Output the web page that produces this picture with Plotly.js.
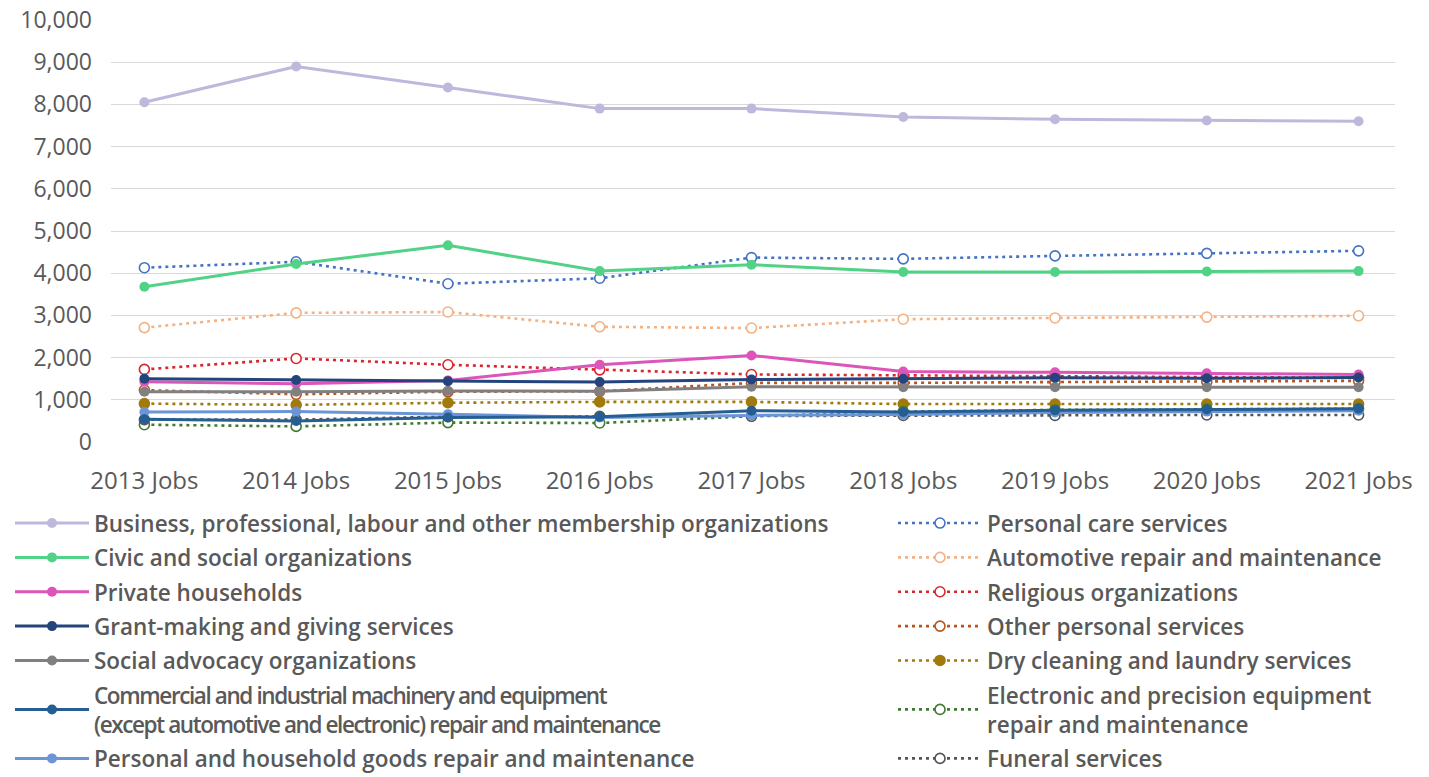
<!DOCTYPE html>
<html>
<head>
<meta charset="utf-8">
<script src="https://cdn.plot.ly/plotly-3.0.1.min.js"></script>
<style>html,body{margin:0;padding:0;background:#fff;}#chart{width:1429px;height:777px;}</style>
</head>
<body>
<div id="chart"></div>
<script>
const years = ["2013 Jobs","2014 Jobs","2015 Jobs","2016 Jobs","2017 Jobs","2018 Jobs","2019 Jobs","2020 Jobs","2021 Jobs"];

const business      = [8050, 8900, 8400, 7900, 7900, 7700, 7650, 7620, 7600];
const civic         = [3680, 4220, 4660, 4050, 4200, 4030, 4030, 4040, 4050];
const households    = [1430, 1380, 1460, 1830, 2050, 1670, 1650, 1630, 1600];
const grantMaking   = [1500, 1470, 1440, 1420, 1480, 1500, 1520, 1510, 1530];
const socialAdvoc   = [1190, 1190, 1210, 1200, 1310, 1300, 1300, 1300, 1300];
const commercial    = [540, 500, 580, 600, 740, 710, 750, 770, 790];
const householdGoods= [710, 720, 660, 580, 630, 650, 700, 720, 740];
const personalCare  = [4130, 4270, 3750, 3880, 4370, 4340, 4410, 4470, 4530];
const automotive    = [2710, 3060, 3080, 2730, 2700, 2910, 2940, 2960, 2990];
const religious     = [1720, 1980, 1830, 1710, 1600, 1580, 1560, 1540, 1520];
const otherPersonal = [1230, 1130, 1190, 1200, 1400, 1400, 1420, 1430, 1450];
const dryCleaning   = [910, 880, 930, 950, 950, 900, 900, 900, 900];
const electronic    = [410, 370, 460, 450, 610, 720, 760, 780, 790];
const funeral       = [530, 530, 600, 610, 610, 630, 630, 640, 640];

const yTickVals = [0,1000,2000,3000,4000,5000,6000,7000,8000,9000,10000];
const yTickText = ["0","1,000","2,000","3,000","4,000","5,000","6,000","7,000","8,000","9,000","10,000"];

const seriesNames = [
  "Business, professional, labour and other membership organizations",
  "Civic and social organizations",
  "Private households",
  "Grant-making and giving services",
  "Social advocacy organizations",
  "<span style=\"letter-spacing:-1.4px\">Commercial and industrial machinery and equipment</span><br><span style=\"letter-spacing:-1.4px\">(except automotive and electronic) repair and maintenance</span>",
  "Personal and household goods repair and maintenance",
  "Personal care services",
  "Automotive repair and maintenance",
  "Religious organizations",
  "Other personal services",
  "Dry cleaning and laundry services",
  "Electronic and precision equipment<br>repair and maintenance",
  "Funeral services"
];

function solid(name, y, color, legend) {
  return {
    type: "scatter", mode: "lines+markers", name: name, x: years, y: y,
    legend: legend, legendgroup: "g" + seriesNames.indexOf(name),
    line: {color: color, width: 3},
    marker: {color: color, size: 10, symbol: "circle"},
    hoverinfo: "y"
  };
}
function dotted(name, y, color, legend, opts) {
  opts = opts || {};
  return {
    type: "scatter", mode: "lines+markers", name: name, x: years, y: y,
    legend: legend, legendgroup: "g" + seriesNames.indexOf(name),
    line: {color: opts.lineColor || color, width: 2.6, dash: "3px,4px"},
    marker: {color: opts.fill || "#ffffff", size: 10, symbol: "circle",
             line: {color: opts.markerLine || color, width: 1.6}},
    hoverinfo: "y"
  };
}

const data = [
  dotted(seriesNames[7], personalCare, "#4472C4", "legend2"),
  dotted(seriesNames[8], automotive, "#F4B183", "legend2"),
  dotted(seriesNames[9], religious, "#D9262E", "legend2"),
  dotted(seriesNames[10], otherPersonal, "#B9551C", "legend2"),
  dotted(seriesNames[11], dryCleaning, "#A07A0C", "legend2", {fill: "#A07A0C"}),
  dotted(seriesNames[12], electronic, "#3E7A2F", "legend2"),
  dotted(seriesNames[13], funeral, "#555555", "legend2", {markerLine: "#555555"}),
  solid(seriesNames[0], business, "#BDB8DC", "legend"),
  solid(seriesNames[1], civic, "#52D287", "legend"),
  solid(seriesNames[2], households, "#DC55B8", "legend"),
  solid(seriesNames[4], socialAdvoc, "#808080", "legend"),
  solid(seriesNames[3], grantMaking, "#23447C", "legend"),
  solid(seriesNames[6], householdGoods, "#6C95D8", "legend"),
  solid(seriesNames[5], commercial, "#245E93", "legend")
];

const legendFont = {family: "Open Sans, sans-serif", size: 22.5, color: "#595959", weight: 600};

const layout = {
  width: 1429, height: 777,
  margin: {l: 111, r: 34, t: 20, b: 335, autoexpand: false},
  paper_bgcolor: "#ffffff", plot_bgcolor: "#ffffff",
  font: {family: "Open Sans, sans-serif", color: "#595959"},
  xaxis: {
    type: "category", range: [-0.22, 8.24],
    showgrid: false, zeroline: false, showline: false, ticks: "",
    tickfont: {size: 24, color: "#595959"}, ticklabelstandoff: 22, fixedrange: true, automargin: false
  },
  yaxis: {
    range: [0, 10000], tickvals: yTickVals, ticktext: yTickText,
    showgrid: true, gridcolor: "#d9d9d9", gridwidth: 1, zeroline: false, showline: false, ticks: "",
    tickfont: {size: 23, color: "#595959"}, ticklabelstandoff: 18, fixedrange: true, automargin: false
  },
  showlegend: true,
  legend: {
    x: (10 - 111) / 1284, y: -0.142, xanchor: "left", yanchor: "top", orientation: "v",
    traceorder: "grouped", tracegroupgap: 2.1, itemwidth: 74,
    font: legendFont, bgcolor: "rgba(0,0,0,0)", itemclick: false, itemdoubleclick: false
  },
  legend2: {
    x: (893 - 111) / 1284, y: -0.142, xanchor: "left", yanchor: "top", orientation: "v",
    traceorder: "grouped", tracegroupgap: 2.1, itemwidth: 84,
    font: legendFont, bgcolor: "rgba(0,0,0,0)", itemclick: false, itemdoubleclick: false
  }
};

data.forEach(t => {
  if (t.legend === "legend") t.legendrank = seriesNames.indexOf(t.name) + 1;
});

Plotly.newPlot("chart", data, layout, {displayModeBar: false});
</script>
</body>
</html>
